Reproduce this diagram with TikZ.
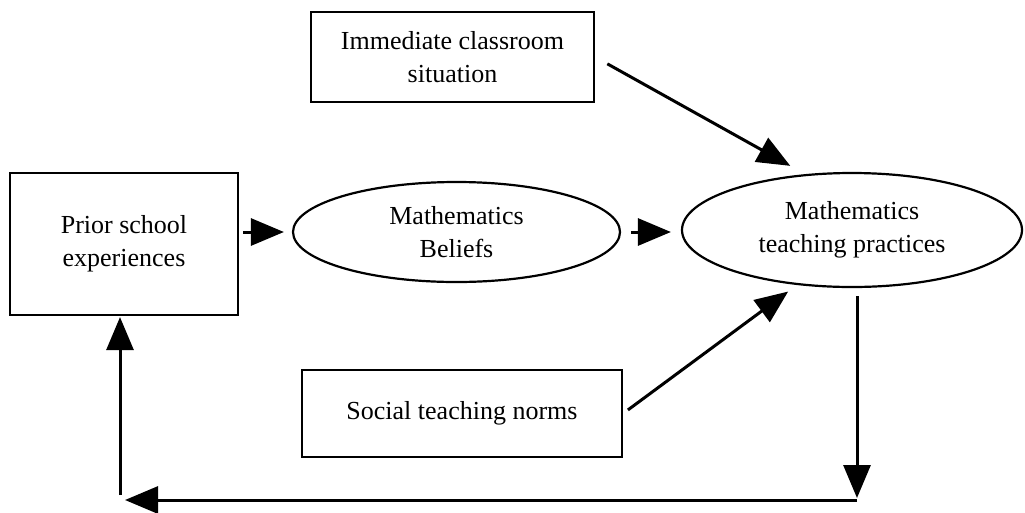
\documentclass[tikz,border=0pt]{standalone}
\usepackage{fontspec}
\setmainfont{Liberation Serif}
\usetikzlibrary{shapes.geometric,arrows.meta}
\begin{document}
\begin{tikzpicture}[x=1pt,y=-1pt,
  every node/.style={font=\fontsize{26}{33}\selectfont, align=center, inner sep=0pt},
  box/.style={draw, line width=2.2pt, rectangle},
  oval/.style={draw, line width=2.2pt, ellipse},
  arr/.style={line width=3pt, -{Triangle[length=33pt,width=27pt]}},
  plain/.style={line width=3pt}]
\useasboundingbox (0,0) rectangle (1025,512);

% factors
\node[box, minimum width=283pt, minimum height=90pt] (top) at (452.5,57) {Immediate classroom\\situation};
\node[box, minimum width=228pt, minimum height=142pt] (prior) at (124,244) {Prior school\\experiences};
\node[oval, minimum width=327pt, minimum height=100pt] (beliefs) at (456.5,232) {Mathematics\\Beliefs};
\node[oval, minimum width=340pt, minimum height=114pt] (practices) at (852,230) {Mathematics\\teaching practices};
\node[box, minimum width=320pt, minimum height=87pt] (social) at (462,413.5) {Social teaching norms};

% feedback loop corners
\coordinate (br) at (857,500);
\coordinate (bl) at (120,500);

% influences
\draw[arr, shorten <=4pt, shorten >=8pt] (prior.east |- beliefs.west) -- (beliefs.west);
\draw[arr, shorten <=10pt, shorten >=10pt] (beliefs.east) -- (beliefs.east -| practices.west);
\draw[arr, shorten <=14pt, shorten >=17pt] (top.east) -- (practices.130);
\draw[arr, shorten <=6pt, shorten >=11pt] (social.east) -- (practices.225);
\draw[arr, shorten <=8pt, shorten >=2pt] (practices.south -| br) -- (br);
\draw[arr, shorten >=5pt] (br) -- (bl);
\draw[arr, shorten >=1pt] ([yshift=5pt]bl) -- (bl |- prior.south);
\end{tikzpicture}
\end{document}
